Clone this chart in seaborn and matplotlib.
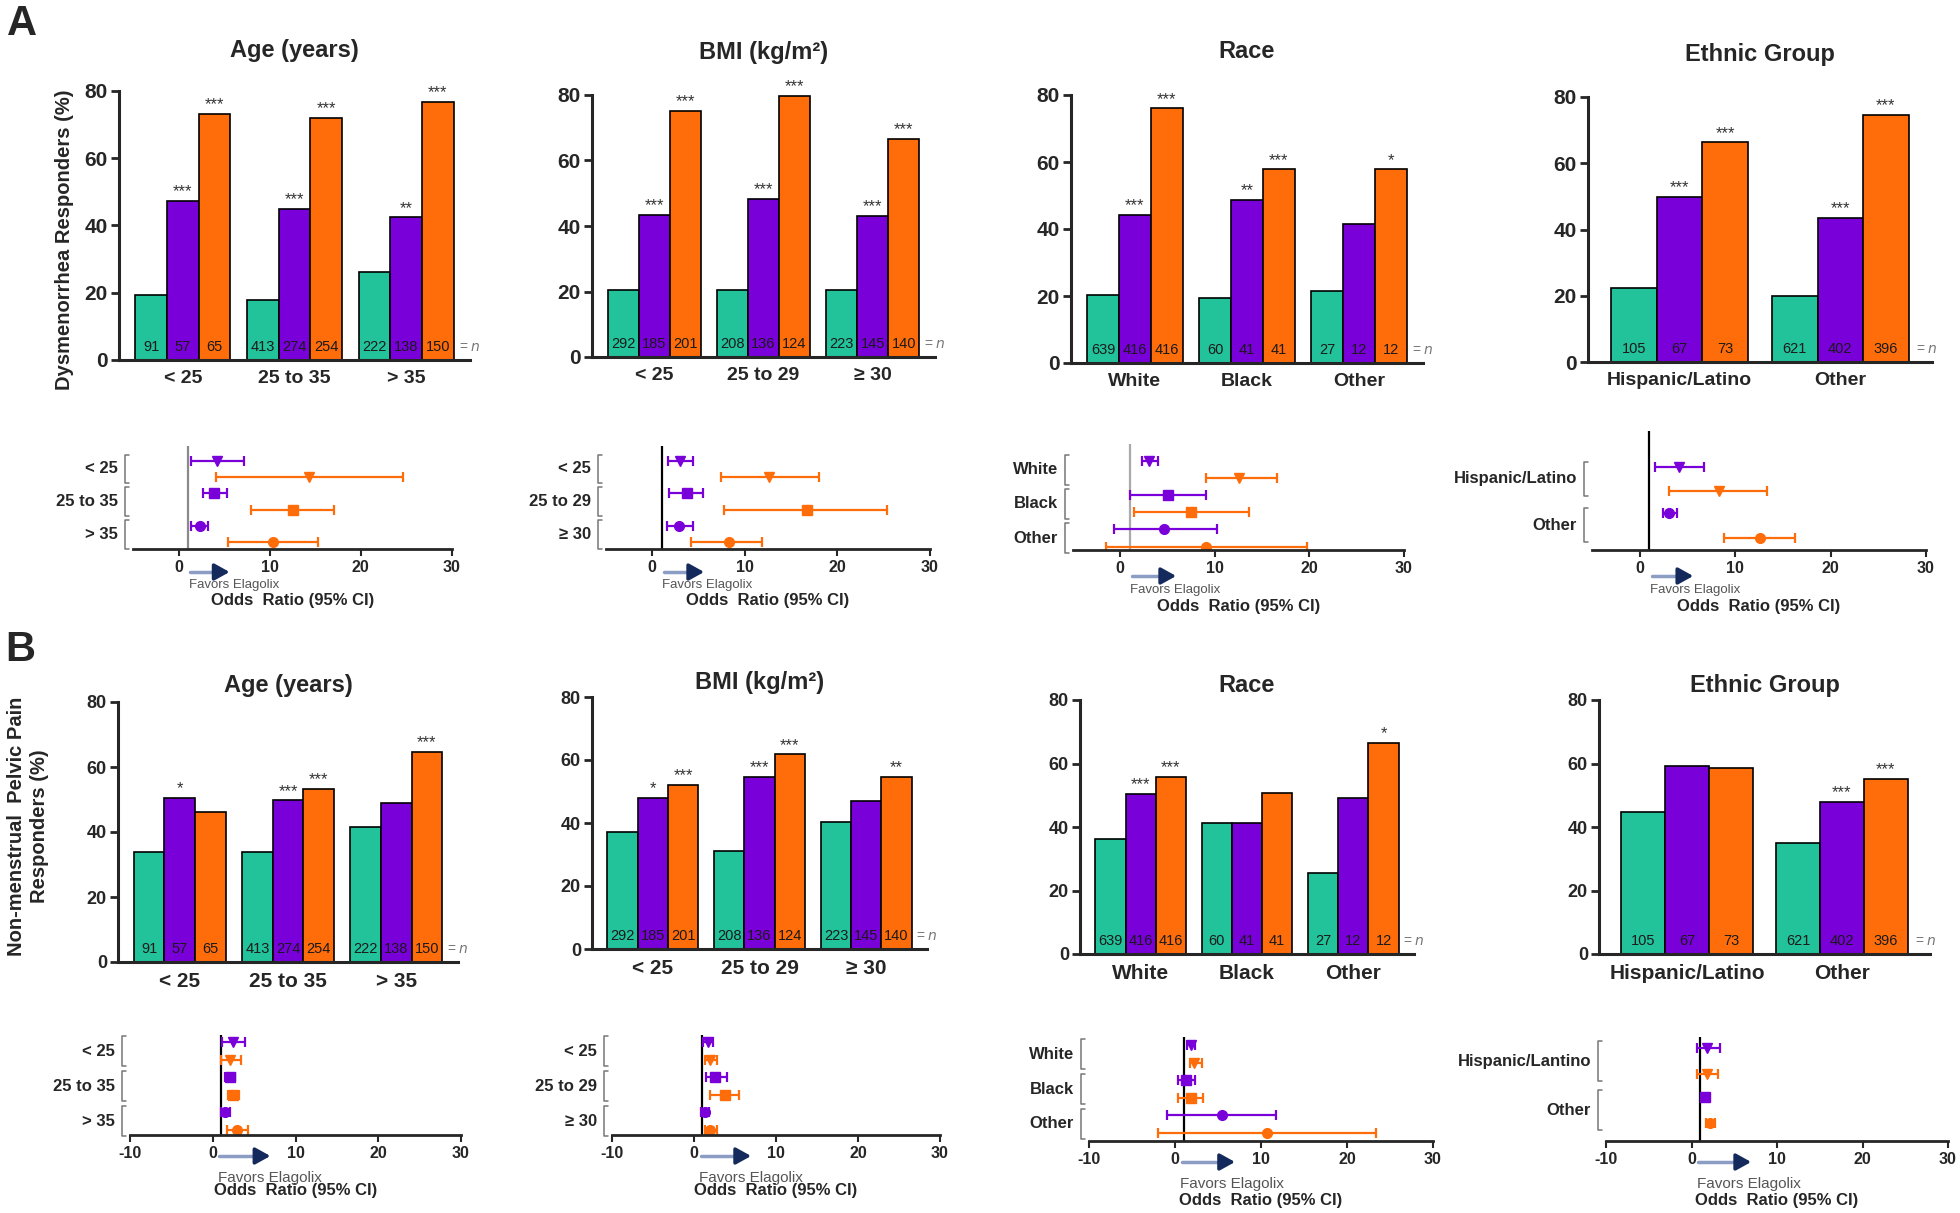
import numpy as np
import pandas as pd
import seaborn as sns
import matplotlib.pyplot as plt
from matplotlib import transforms, font_manager

sns.set_style("ticks")
plt.rcParams['font.family'] = ['Liberation Sans', 'DejaVu Sans']

_names = {f.name for f in font_manager.fontManager.ttflist}
NARROW = 'Liberation Sans Narrow' if 'Liberation Sans Narrow' in _names else 'Liberation Sans'
NARROW = [NARROW, 'DejaVu Sans']

W, H = 1960, 1213

treatments = ['Placebo', 'Elagolix 150 mg QD', 'Elagolix 200 mg BID']
colors = ['#22C29A', '#7A00DA', '#FF6D0A']

age_groups = ['< 25', '25 to 35', '> 35']
bmi_groups = ['< 25', '25 to 29', '≥ 30']
race_groups = ['White', 'Black', 'Other']
eth_groups = ['Hispanic/Latino', 'Other']
eth_groups_b = ['Hispanic/Lantino', 'Other']

# n per subgroup
n_age_pbo, n_age_150, n_age_200 = [91, 413, 222], [57, 274, 138], [65, 254, 150]
n_bmi_pbo, n_bmi_150, n_bmi_200 = [292, 208, 223], [185, 136, 145], [201, 124, 140]
n_race_pbo, n_race_150, n_race_200 = [639, 60, 27], [416, 41, 12], [416, 41, 12]
n_eth_pbo, n_eth_150, n_eth_200 = [105, 621], [67, 402], [73, 396]

# A: dysmenorrhea responders (%)
dys_age_pbo = [19.2, 17.7, 26.3]
dys_age_150 = [47.2, 45.0, 42.4]
dys_age_200 = [73.1, 72.1, 76.7]
dys_age_s150 = ['***', '***', '**']
dys_age_s200 = ['***', '***', '***']

dys_bmi_pbo = [20.5, 20.6, 20.6]
dys_bmi_150 = [43.5, 48.2, 43.1]
dys_bmi_200 = [75.2, 79.7, 66.5]
dys_bmi_s150 = ['***', '***', '***']
dys_bmi_s200 = ['***', '***', '***']

dys_race_pbo = [20.2, 19.3, 21.5]
dys_race_150 = [44.3, 48.7, 41.4]
dys_race_200 = [76.0, 57.8, 57.8]
dys_race_s150 = ['***', '**', '']
dys_race_s200 = ['***', '***', '*']

dys_eth_pbo = [22.2, 19.9]
dys_eth_150 = [49.8, 43.5]
dys_eth_200 = [66.3, 74.7]
dys_eth_s150 = ['***', '***']
dys_eth_s200 = ['***', '***']

# B: non-menstrual pelvic pain responders (%)
nmpp_age_pbo = [33.8, 33.8, 41.5]
nmpp_age_150 = [50.5, 49.7, 48.9]
nmpp_age_200 = [46.2, 53.3, 64.6]
nmpp_age_s150 = ['*', '***', '']
nmpp_age_s200 = ['', '***', '***']

nmpp_bmi_pbo = [37.1, 31.2, 40.2]
nmpp_bmi_150 = [48.0, 54.6, 46.9]
nmpp_bmi_200 = [52.2, 61.8, 54.6]
nmpp_bmi_s150 = ['*', '***', '']
nmpp_bmi_s200 = ['***', '***', '**']

nmpp_race_pbo = [36.2, 41.3, 25.4]
nmpp_race_150 = [50.4, 41.3, 49.2]
nmpp_race_200 = [55.9, 50.6, 66.6]
nmpp_race_s150 = ['***', '', '']
nmpp_race_s200 = ['***', '', '*']

nmpp_eth_pbo = [44.8, 34.9]
nmpp_eth_150 = [59.2, 48.0]
nmpp_eth_200 = [58.7, 55.2]
nmpp_eth_s150 = ['', '***']
nmpp_eth_s200 = ['', '***']

# odds ratios (point, lower, upper)
or_dys_age_150, lo_dys_age_150, hi_dys_age_150 = [4.2, 3.9, 2.3], [1.4, 2.7, 1.4], [7.2, 5.3, 3.2]
or_dys_age_200, lo_dys_age_200, hi_dys_age_200 = [14.3, 12.5, 10.4], [4.1, 8.0, 5.4], [24.6, 17.0, 15.3]
or_dys_bmi_150, lo_dys_bmi_150, hi_dys_bmi_150 = [3.0, 3.7, 2.9], [1.7, 1.8, 1.6], [4.4, 5.5, 4.4]
or_dys_bmi_200, lo_dys_bmi_200, hi_dys_bmi_200 = [12.6, 16.7, 8.3], [7.4, 7.8, 4.2], [18.0, 25.4, 11.9]
or_dys_race_150, lo_dys_race_150, hi_dys_race_150 = [3.0, 5.0, 4.6], [2.3, 1.0, -0.7], [4.0, 9.1, 10.2]
or_dys_race_200, lo_dys_race_200, hi_dys_race_200 = [12.6, 7.5, 9.1], [9.1, 1.4, -1.5], [16.6, 13.6, 19.7]
or_dys_eth_150, lo_dys_eth_150, hi_dys_eth_150 = [4.1, 3.1], [1.6, 2.4], [6.7, 3.9]
or_dys_eth_200, lo_dys_eth_200, hi_dys_eth_200 = [8.3, 12.6], [3.1, 8.8], [13.3, 16.3]

or_nmpp_age_150, lo_nmpp_age_150, hi_nmpp_age_150 = [2.5, 2.1, 1.5], [1.1, 1.5, 1.0], [3.9, 2.7, 2.1]
or_nmpp_age_200, lo_nmpp_age_200, hi_nmpp_age_200 = [2.1, 2.5, 2.9], [1.0, 1.9, 1.7], [3.4, 3.2, 4.2]
or_nmpp_bmi_150, lo_nmpp_bmi_150, hi_nmpp_bmi_150 = [1.7, 2.6, 1.3], [1.1, 1.5, 0.9], [2.3, 4.0, 1.8]
or_nmpp_bmi_200, lo_nmpp_bmi_200, hi_nmpp_bmi_200 = [2.0, 3.8, 2.0], [1.3, 2.0, 1.3], [2.8, 5.5, 2.8]
or_nmpp_race_150, lo_nmpp_race_150, hi_nmpp_race_150 = [1.9, 1.3, 5.5], [1.4, 0.3, -0.9], [2.3, 2.3, 11.8]
or_nmpp_race_200, lo_nmpp_race_200, hi_nmpp_race_200 = [2.2, 1.9, 10.7], [1.75, 0.4, -2.0], [3.1, 3.3, 23.4]
or_nmpp_eth_150, lo_nmpp_eth_150, hi_nmpp_eth_150 = [1.8, 1.6], [0.7, 1.2], [3.3, 2.0]
or_nmpp_eth_200, lo_nmpp_eth_200, hi_nmpp_eth_200 = [1.8, 2.2], [0.7, 1.7], [3.1, 2.8]

fig = plt.figure(figsize=(W / 100, H / 100), dpi=100)


def fy(y):
    return 1 - y / H


def px_axes(l, t, r, b):
    return fig.add_axes([l / W, 1 - b / H, (r - l) / W, (b - t) / H])


def bar_panel(box, title, title_y, groups, pbo, e150, e200, s150, s200, n_p, n_150, n_200,
              font, xfs, yfs):
    ax = px_axes(*box)
    df = pd.DataFrame({
        'group': groups * 3,
        'trt': [tr for tr in treatments for _ in groups],
        'pct': pbo + e150 + e200,
    })
    sns.barplot(data=df, x='group', y='pct', hue='trt', order=groups, hue_order=treatments,
                palette=colors, saturation=1, width=0.85, edgecolor='black', linewidth=1.2,
                legend=False, ax=ax)
    ax.set_ylim(0, 80)
    ax.set_xlim(-0.57, len(groups) - 0.43)
    ax.set_xlabel('')
    ax.set_ylabel('')
    sns.despine(ax=ax)
    for s in ['left', 'bottom']:
        ax.spines[s].set_linewidth(2.2)
    ax.set_yticks([0, 20, 40, 60, 80])
    ax.set_yticklabels(['0', '20', '40', '60', '80'], fontweight='bold', fontsize=yfs, family=font)
    ax.set_xticks(range(len(groups)))
    ax.set_xticklabels(groups, fontweight='bold', fontsize=xfs, family=font)
    ax.tick_params(axis='x', length=0, pad=7)
    ax.tick_params(axis='y', length=6, width=2, pad=2)
    stars = [[''] * len(groups), s150, s200]
    ns = [n_p, n_150, n_200]
    for k, cont in enumerate(ax.containers):
        for j, bar in enumerate(cont):
            xc = bar.get_x() + bar.get_width() / 2
            if stars[k][j]:
                ax.text(xc, bar.get_height() + 0.5, stars[k][j], ha='center', va='bottom',
                        fontsize=12, color='#333333')
            ax.text(xc, 4, str(ns[k][j]), ha='center', va='center', fontsize=10.5,
                    family=NARROW, color='#1a1a1a')
    ax.text(len(groups) - 1 + 0.47, 4, r'= $\mathit{n}$', ha='left', va='center',
            fontsize=10, color='#777777')
    fig.text((box[0] + box[2]) / 2 / W, fy(title_y), title, ha='center', va='center',
             fontsize=17, fontweight='bold', family=font)
    return ax


def forest_panel(box, ylim, labels, o1, l1, h1, o2, l2, h2, mk1, mk2, xlim, xticks, refcol,
                 arrow_x, arrow_y, fav_y, odds_y, fav_fs, half, off):
    l, t, r, b = box
    ax = px_axes(*box)
    wpx = r - l
    for i in range(len(labels)):
        ax.errorbar(o1[i], i - off, xerr=[[o1[i] - l1[i]], [h1[i] - o1[i]]], fmt=mk1[i],
                    color=colors[1], ms=7, capsize=3.5, elinewidth=1.6, capthick=1.6)
        ax.errorbar(o2[i], i + off, xerr=[[o2[i] - l2[i]], [h2[i] - o2[i]]], fmt=mk2[i],
                    color=colors[2], ms=7, capsize=3.5, elinewidth=1.6, capthick=1.6)
    ax.axvline(1, color=refcol, lw=1.6, zorder=0)
    ax.set_ylim(*ylim)
    ax.set_yticks([])
    ax.set_xlim(*xlim)
    ax.set_xticks(xticks)
    ax.set_xticklabels([str(v) for v in xticks], fontweight='bold', fontsize=11.5, family=NARROW)
    ax.tick_params(axis='x', length=5, width=1.5, pad=3)
    for s in ['left', 'top', 'right']:
        ax.spines[s].set_visible(False)
    ax.spines['bottom'].set_linewidth(2)
    ax.set_facecolor('none')
    trans = transforms.blended_transform_factory(ax.transAxes, ax.transData)
    bx, hook = -8 / wpx, 4 / wpx
    for i, lab in enumerate(labels):
        ax.plot([bx + hook, bx, bx, bx + hook], [i - half, i - half, i + half, i + half],
                transform=trans, clip_on=False, color='#777777', lw=1.1)
        ax.text(-15 / wpx, i, lab, transform=trans, ha='right', va='center',
                fontweight='bold', fontsize=12, family=NARROW)
    tf = transforms.blended_transform_factory(ax.transData, fig.transFigure)
    ax.plot([arrow_x[0], arrow_x[1] - 1.0], [fy(arrow_y)] * 2, transform=tf, clip_on=False,
            color='#8c9dc4', lw=2.5)
    ax.annotate('', xy=(arrow_x[1], fy(arrow_y)), xytext=(arrow_x[1] - 1.8, fy(arrow_y)),
                xycoords=tf, textcoords=tf, annotation_clip=False,
                arrowprops=dict(arrowstyle='-|>,head_length=0.9,head_width=0.5',
                                color='#142a5c', lw=2.5))
    ax.text(arrow_x[0] - 0.2, fy(fav_y), 'Favors Elagolix', transform=tf, ha='left',
            va='center', fontsize=fav_fs, color='#555555', family=NARROW)
    fig.text((l + r) / 2 / W, fy(odds_y), 'Odds  Ratio (95% CI)', ha='center', va='center',
             fontweight='bold', fontsize=12, family=NARROW)
    return ax


FONT_A = ['Liberation Sans', 'DejaVu Sans']

# ---- Panel A bars ----
bar_panel((119, 91, 470, 360), 'Age (years)', 50, age_groups, dys_age_pbo, dys_age_150,
          dys_age_200, dys_age_s150, dys_age_s200, n_age_pbo, n_age_150, n_age_200, FONT_A, 14, 15)
bar_panel((592, 95, 935, 357), 'BMI (kg/m²)', 52, bmi_groups, dys_bmi_pbo, dys_bmi_150,
          dys_bmi_200, dys_bmi_s150, dys_bmi_s200, n_bmi_pbo, n_bmi_150, n_bmi_200, FONT_A, 14, 15)
bar_panel((1071, 95, 1423, 363), 'Race', 52, race_groups, dys_race_pbo, dys_race_150,
          dys_race_200, dys_race_s150, dys_race_s200, n_race_pbo, n_race_150, n_race_200,
          FONT_A, 14, 15)
bar_panel((1588, 97, 1932, 362), 'Ethnic Group', 55, eth_groups, dys_eth_pbo, dys_eth_150,
          dys_eth_200, dys_eth_s150, dys_eth_s200, n_eth_pbo, n_eth_150, n_eth_200, FONT_A, 14, 15)

# ---- Panel A forests ----
mk3 = ['v', 's', 'o']
forest_panel((133, 446, 452, 549), (2.45, -0.7), age_groups,
             or_dys_age_150, lo_dys_age_150, hi_dys_age_150,
             or_dys_age_200, lo_dys_age_200, hi_dys_age_200, mk3, mk3,
             (-5, 30), [0, 10, 20, 30], '#8a8a8a', (1.3, 5.9), 572, 585, 601, 9.5, 0.44, 0.25)
forest_panel((606, 446, 930, 549), (2.45, -0.7), bmi_groups,
             or_dys_bmi_150, lo_dys_bmi_150, hi_dys_bmi_150,
             or_dys_bmi_200, lo_dys_bmi_200, hi_dys_bmi_200, mk3, mk3,
             (-5, 30), [0, 10, 20, 30], 'black', (1.3, 5.9), 572, 585, 601, 9.5, 0.44, 0.25)
forest_panel((1073, 444, 1404, 550), (2.35, -0.75), race_groups,
             or_dys_race_150, lo_dys_race_150, hi_dys_race_150,
             or_dys_race_200, lo_dys_race_200, hi_dys_race_200, mk3, mk3,
             (-5, 30), [0, 10, 20, 30], '#aaaaaa', (1.2, 6.2), 576, 590, 606, 9.5, 0.44, 0.25)
forest_panel((1592, 431, 1926, 550), (1.54, -1.04), eth_groups,
             or_dys_eth_150, lo_dys_eth_150, hi_dys_eth_150,
             or_dys_eth_200, lo_dys_eth_200, hi_dys_eth_200, ['v', 'o'], ['v', 'o'],
             (-5, 30), [0, 10, 20, 30], 'black', (1.3, 5.9), 576, 590, 606, 9.5, 0.36, 0.27)

# ---- Panel B bars ----
bar_panel((118, 702, 458, 962), 'Age (years)', 686, age_groups, nmpp_age_pbo, nmpp_age_150,
          nmpp_age_200, nmpp_age_s150, nmpp_age_s200, n_age_pbo, n_age_150, n_age_200,
          NARROW, 15, 13)
bar_panel((592, 697, 927, 949), 'BMI (kg/m²)', 682, bmi_groups, nmpp_bmi_pbo, nmpp_bmi_150,
          nmpp_bmi_200, nmpp_bmi_s150, nmpp_bmi_s200, n_bmi_pbo, n_bmi_150, n_bmi_200,
          NARROW, 15, 13)
bar_panel((1080, 700, 1414, 954), 'Race', 686, race_groups, nmpp_race_pbo, nmpp_race_150,
          nmpp_race_200, nmpp_race_s150, nmpp_race_s200, n_race_pbo, n_race_150, n_race_200,
          NARROW, 15, 13)
bar_panel((1599, 700, 1930, 954), 'Ethnic Group', 686, eth_groups, nmpp_eth_pbo, nmpp_eth_150,
          nmpp_eth_200, nmpp_eth_s150, nmpp_eth_s200, n_eth_pbo, n_eth_150, n_eth_200,
          NARROW, 15, 13)

# ---- Panel B forests ----
forest_panel((130, 1035, 461, 1135), (2.4, -0.46), age_groups,
             or_nmpp_age_150, lo_nmpp_age_150, hi_nmpp_age_150,
             or_nmpp_age_200, lo_nmpp_age_200, hi_nmpp_age_200, mk3, mk3,
             (-10, 30), [-10, 0, 10, 20, 30], 'black', (0.8, 7.3), 1156, 1178, 1191, 11, 0.44, 0.25)
forest_panel((612, 1035, 940, 1135), (2.4, -0.46), bmi_groups,
             or_nmpp_bmi_150, lo_nmpp_bmi_150, hi_nmpp_bmi_150,
             or_nmpp_bmi_200, lo_nmpp_bmi_200, hi_nmpp_bmi_200, mk3, mk3,
             (-10, 30), [-10, 0, 10, 20, 30], 'black', (0.8, 7.3), 1156, 1178, 1191, 11, 0.44, 0.25)
forest_panel((1089, 1037, 1433, 1141), (2.49, -0.49), race_groups,
             or_nmpp_race_150, lo_nmpp_race_150, hi_nmpp_race_150,
             or_nmpp_race_200, lo_nmpp_race_200, hi_nmpp_race_200, mk3, mk3,
             (-10, 30), [-10, 0, 10, 20, 30], 'black', (0.8, 7.3), 1162, 1184, 1200, 11, 0.44, 0.25)
forest_panel((1606, 1037, 1948, 1141), (1.63, -0.49), eth_groups_b,
             or_nmpp_eth_150, lo_nmpp_eth_150, hi_nmpp_eth_150,
             or_nmpp_eth_200, lo_nmpp_eth_200, hi_nmpp_eth_200, ['v', 's'], ['v', 'o'],
             (-10, 30), [-10, 0, 10, 20, 30], 'black', (0.8, 7.3), 1162, 1184, 1200, 11, 0.4, 0.27)

# ---- labels ----
fig.text(64 / W, fy(240), 'Dysmenorrhea Responders (%)', rotation=90, ha='center', va='center',
         fontsize=14.5, fontweight='bold')
fig.text(28 / W, fy(826), 'Non-menstrual  Pelvic Pain\nResponders (%)', rotation=90,
         ha='center', va='center', fontsize=14.5, fontweight='bold', linespacing=1.3)
fig.text(22 / W, fy(24), 'A', ha='center', va='center', fontsize=30, fontweight='bold')
fig.text(20 / W, fy(650), 'B', ha='center', va='center', fontsize=30, fontweight='bold')

fig.savefig('out.png', dpi=100, facecolor='white')
